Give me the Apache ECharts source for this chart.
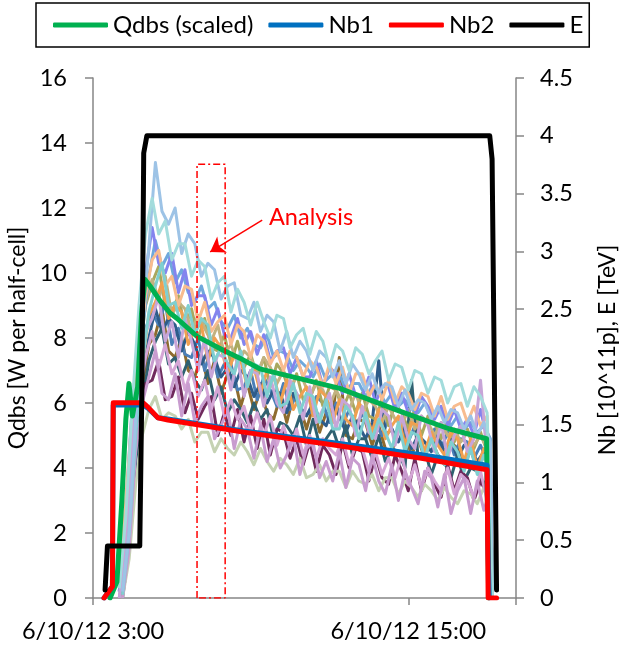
<!DOCTYPE html>
<html><head><meta charset="utf-8">
<script src="https://cdn.jsdelivr.net/npm/echarts@6/dist/echarts.min.js"></script>
<style>html,body{margin:0;padding:0;background:#fff}#c{width:626px;height:651px}</style>
</head><body><div id="c"></div>
<script>
// Time axis: hours after 6/10/12 3:00
const xTickLabels = {0: '6/10/12 3:00', 12: '6/10/12 15:00'};

// Qdbs (scaled) – left axis
const qdbsT = [0.65, 0.91, 1.1, 1.25, 1.37, 1.5, 1.7, 1.85, 1.98, 2.17, 2.55, 2.93, 3.2, 3.96, 4.94, 5.59, 6.35, 7.87, 9.39, 11.67, 13.57, 14.98, 15.02, 15.06];
const qdbsV = [0, 0.5, 3.0, 5.5, 6.6, 5.6, 6.5, 8.8, 9.8, 9.6, 9.15, 8.77, 8.6, 8.05, 7.63, 7.38, 7.05, 6.75, 6.45, 5.75, 5.2, 4.9, 4.85, 0];

// Nb1, Nb2, E – right axis
const nb1T = [0.42, 0.74, 0.77, 1.91, 2.1, 2.47, 2.85, 5.6, 9.3, 12.5, 15.0, 15.03, 15.08];
const nb1V = [0, 0.1, 1.67, 1.67, 1.64, 1.56, 1.55, 1.45, 1.34, 1.24, 1.15, 0.5, 0];
const nb2T = [0.42, 0.74, 0.77, 1.91, 2.1, 2.47, 2.85, 5.6, 9.3, 12.5, 15.0, 15.04, 15.36];
const nb2V = [0, 0.1, 1.69, 1.69, 1.65, 1.56, 1.54, 1.44, 1.32, 1.21, 1.11, 0, 0];
const eT = [0.46, 0.55, 1.78, 1.86, 1.93, 2.05, 15.1, 15.19, 15.36];
const eV = [0.07, 0.45, 0.45, 1.8, 3.85, 4.0, 4.0, 3.8, 0.07];

// Individual half-cell heat-load traces (left axis)
const tA = [1.0,1.25,1.5,1.75,2.0,2.25,2.5,2.75,3.0,3.25,3.5,3.75,4.0,4.25,4.5,4.75,5.0,5.25,5.5,5.75,6.0,6.25,6.5,6.75,7.0,7.25,7.5,7.75,8.0,8.25,8.5,8.75,9.0,9.25,9.5,9.75,10.0,10.25,10.5,10.75,11.0,11.25,11.5,11.75,12.0,12.25,12.5,12.75,13.0,13.25,13.5,13.75,14.0,14.25,14.5,14.75,15.0,15.2];
const tB = [1.125,1.375,1.625,1.875,2.125,2.375,2.625,2.875,3.125,3.375,3.625,3.875,4.125,4.375,4.625,4.875,5.125,5.375,5.625,5.875,6.125,6.375,6.625,6.875,7.125,7.375,7.625,7.875,8.125,8.375,8.625,8.875,9.125,9.375,9.625,9.875,10.125,10.375,10.625,10.875,11.125,11.375,11.625,11.875,12.125,12.375,12.625,12.875,13.125,13.375,13.625,13.875,14.125,14.375,14.625,14.875,15.125,15.2];

const brownV = [0.1,2.2,5.0,6.5,7.8, 8.1,8.9,7.6,7.4, 8.0,7.0,6.8,7.5, 6.6,7.3,6.3,6.9, 6.8,5.9,6.6,5.8, 6.4,5.7,5.5,6.2, 5.4,6.2,5.9,5.2, 5.9,5.1,5.7,5.6, 7.4,5.0,4.9,5.5, 5.4,4.7,5.3,4.6, 4.5,5.2,5.0,4.4, 4.9,4.3,4.9,4.4, 4.1,4.8,4.6,4.0, 4.6,3.9,4.4,4.0, 0];
const steelV = [0.2,2.4,5.2,7.0,8.3, 8.8,8.4,9.1,7.8, 8.3,7.5,7.4,8.0, 7.0,7.7,6.8,7.2, 7.2,6.4,6.5,7.0, 6.1,6.8,6.4,5.9, 6.6,5.8,6.3,5.6, 5.7,6.2,6.0,5.4, 6.0,5.3,5.8,5.2, 5.7,5.2,5.4,5.0, 5.5,4.9,5.5,4.8, 5.3,4.9,4.7,5.2, 4.6,5.1,4.4,4.9, 4.8,4.3,4.7,4.2, 0];
const darkBlueV = [0.1,2.3,5.0,6.8,8.0, 8.9,8.2,8.6,8.4, 7.6,8.2,7.8,7.2, 7.6,7.4,6.8,7.1, 6.5,7.0,6.8,6.2, 6.6,6.0,6.4,6.3, 5.7,6.3,5.9,5.6, 6.0,5.5,5.3,5.9, 5.6,5.1,5.6,5.3, 4.9,5.4,7.3,5.0, 5.2,4.8,5.3,4.6, 5.0,4.8,4.5,5.0, 4.5,4.9,4.3,4.7, 4.6,4.2,4.5,4.1, 0];
const tealV = [0.0,1.5,4.2,6.0,7.3, 7.9,8.3,7.2,7.4, 6.8,7.3,6.7,6.4, 7.0,6.1,6.5,5.7, 6.1,5.8,5.4,6.0, 5.5,5.8,4.9,5.4, 5.3,5.0,5.6,4.7, 5.5,4.7,4.9,5.2, 4.6,5.3,4.4,4.9, 4.9,4.3,5.0,4.2, 4.6,4.5,4.0,6.7, 4.3,4.6,3.8,4.4, 4.2,3.7,4.4,3.6, 4.0,3.9,3.5,3.8, 0];
const purpleV = [0.0,1.0,3.8,5.5,6.6, 6.7,7.3,6.1,6.2, 6.8,5.7,6.3,5.5, 5.9,6.2,5.0,5.7, 5.0,5.8,4.8,5.6, 4.6,5.5,4.4,5.2, 5.1,4.3,4.9,4.1, 4.8,3.9,4.7,4.4, 3.8,4.8,4.0,4.6, 4.5,3.6,4.4,3.7, 3.5,4.4,3.9,3.3, 4.3,3.3,4.0,3.5, 3.1,4.1,3.3,3.9, 3.7,3.0,3.6,3.2, 0];
const oliveV = [0.3,2.6,5.2,7.4,9.0, 9.7,10.2,9.0,8.8, 9.3,8.3,8.9,8.0, 8.6,7.7,7.6,8.1, 7.2,7.9,7.1,7.5, 6.8,7.4,6.5,7.2, 6.9,6.3,6.9,6.1, 6.1,6.7,5.9,6.5, 6.4,5.8,6.3,5.7, 6.3,5.6,5.5,6.1, 5.3,6.0,5.7,5.2, 5.8,5.0,5.6,5.4, 4.9,5.5,4.8,5.3, 5.2,4.6,5.1,4.5, 0];
const khakiV = [0.3,2.7,5.6,7.6,9.1, 9.8,9.2,9.9,8.7, 9.1,8.9,8.2,8.7, 8.3,7.9,8.4,7.5, 7.8,7.2,7.6,7.4, 6.9,7.4,7.1,6.6, 7.0,6.5,6.8,6.7, 6.2,6.6,6.4,5.9, 6.4,6.0,5.8,6.3, 5.7,6.1,5.9,5.4, 5.9,5.5,5.3,5.8, 5.2,5.6,5.4,5.0, 5.4,5.0,5.2,4.8, 5.1,4.7,5.0,4.6, 0];
const orangeV = [0.2,2.8,5.5,7.2,8.7, 9.1,9.7,8.6,9.0, 8.8,7.8,8.3,8.4, 7.3,8.0,7.7,6.9, 7.5,7.3,6.5,7.1, 6.3,7.0,6.9,6.0, 6.7,5.8,6.2,6.5, 5.6,6.4,6.2,5.4, 6.1,5.5,5.3,6.0, 5.7,5.1,5.8,4.9, 5.3,5.6,4.7,5.4, 5.3,4.5,5.1,4.7, 4.4,5.1,4.9,4.2, 4.9,4.0,4.6,4.3, 0];
const sageV = [0.0,1.2,3.5,5.0,5.8, 6.2,5.5,5.7,5.6, 5.2,5.5,4.8,5.1, 5.1,4.5,4.9,4.6, 4.4,4.8,4.5,4.1, 4.6,4.2,3.9,4.3, 4.1,3.8,4.3,3.7, 3.8,4.1,3.6,3.9, 3.9,3.4,3.9,3.6, 3.5,3.8,3.3,3.7, 3.7,3.2,3.6,3.4, 3.1,3.5,3.3,3.0, 3.4,3.1,2.9,3.3, 3.2,2.9,3.4,2.8, 0];
const midBlueV = [0.2,2.6,5.8,8.2,9.9, 11.0,10.2,10.6,9.7, 10.1,9.4,9.1,9.6, 8.9,9.1,8.5,8.3, 8.7,8.0,8.3,7.8, 7.7,8.1,7.4,7.6, 7.5,7.0,7.3,7.1, 6.8,7.2,6.7,6.9, 6.9,6.4,6.6,6.6, 6.2,6.5,6.4,6.0, 6.3,5.9,6.1,5.8, 5.7,6.0,5.6,5.8, 5.6,5.3,5.6,5.2, 5.4,5.1,5.3,4.9, 0];
const periV = [0.2,2.8,6.0,8.0,10.0, 11.4,10.3,10.0,10.6, 9.4,10.1,9.0,9.3, 9.3,8.4,8.9,8.1, 8.0,8.6,7.8,8.2, 7.5,8.1,7.3,7.6, 7.7,6.9,7.4,6.8, 6.8,7.3,6.5,7.1, 6.9,6.3,6.9,6.2, 6.2,6.8,6.0,6.5, 6.5,5.8,6.3,5.7, 5.6,6.2,5.9,5.5, 5.9,5.3,5.8,5.2, 5.5,5.0,5.8,4.9, 0];
const peachV = [0.4,3.0,5.8,7.5,9.3, 10.4,10.7,9.6,9.9, 9.0,9.6,9.5,8.5, 9.1,8.2,8.5,8.7, 7.8,8.4,8.2,7.4, 8.1,7.9,7.2,7.6, 7.0,7.6,7.4,6.8, 7.3,7.1,6.5,7.2, 6.6,7.1,6.3,6.9, 6.9,6.2,6.6,6.1, 6.7,6.0,6.5,6.3, 5.8,6.3,6.2,5.6, 6.2,5.5,5.9,6.0, 5.4,5.9,5.3,5.6, 0];
const pinkLavV = [0.0,1.6,4.8,6.3,7.4, 8.2,7.1,7.8,6.9, 7.3,6.4,7.0,6.2, 6.7,5.8,6.5,5.6, 6.1,5.5,5.9,5.1, 5.7,5.0,5.6,4.7, 5.3,4.6,5.2,4.4, 5.0,4.3,4.9,4.6, 4.4,4.9,4.1,4.7, 4.6,3.9,4.5,3.8, 4.3,3.7,4.4,3.5, 4.1,3.4,4.0,3.6, 3.3,4.0,3.2,3.8, 3.6,3.1,3.9,3.0, 0];
const lav2V = [0.0,1.8,5.0,6.8,8.2, 8.6,9.3,7.9,8.5, 7.4,8.6,7.9,7.0, 8.0,6.8,7.5,7.4, 6.4,7.4,6.2,7.0, 6.9,5.9,6.8,6.0, 5.7,6.7,6.3,5.5, 6.5,5.4,5.8,6.3, 5.2,6.1,5.9,5.0, 5.9,5.1,4.9,5.8, 5.6,4.7,5.6,4.9, 4.6,5.6,5.3,4.5, 5.4,4.3,5.0,5.3, 4.5,4.9,6.7,4.3, 0];
const lavLowV = [0.0,1.5,4.5,6.0,6.8, 7.6,6.3,6.1,6.9, 5.6,6.6,5.4,5.9, 6.2,4.9,5.3,5.8, 4.6,5.5,5.2,4.3, 5.3,4.2,4.9,4.0, 4.4,5.0,3.8,4.6, 4.8,3.7,4.2,3.6, 4.5,3.4,4.3,4.1, 3.3,4.4,3.6,3.2, 4.1,3.0,3.9,3.4, 2.9,3.9,3.7,2.8, 3.8,2.6,3.3,3.7, 2.6,3.6,2.7,3.3, 0];
const aqua2V = [0.1,2.0,5.0,7.2,8.8, 9.6,10.3,9.0,9.1, 8.3,9.0,8.1,8.6, 8.4,7.3,7.7,7.2, 6.9,7.6,6.5,7.2, 7.1,6.2,6.9,5.9, 6.0,6.6,5.7,6.3, 6.2,5.4,6.1,5.2, 5.2,5.9,5.6,4.9, 5.7,4.9,5.5,5.1, 4.6,5.4,4.5,5.1, 5.0,4.3,4.9,4.4, 4.1,4.8,4.5,3.9, 4.6,3.8,4.4,3.9, 0];
const lightBlueV = [0.2,2.0,5.5,8.5,10.8, 13.4,11.9,11.5,12.0, 10.6,11.2,10.9,9.9, 10.3,10.1,9.2,9.6, 9.7,8.7,8.6,9.1, 8.2,8.7,8.5,7.6, 8.2,7.4,7.9,7.6, 7.0,7.6,7.4,6.8, 7.3,6.6,7.2,6.9, 6.4,6.9,6.3,6.6, 6.5,5.9,6.4,5.8, 6.1,6.0,5.5,5.9, 5.4,5.8,5.7,5.2, 5.6,5.0,5.4,4.8, 0];
const aquaV = [0.3,2.5,6.0,9.0,11.2, 12.3,11.2,11.6,10.4, 10.9,10.9,9.9,10.4, 10.2,9.2,9.7,9.9, 8.8,9.5,9.1,8.4, 9.1,8.5,8.0,8.7, 8.6,7.7,8.1,8.3, 7.5,8.2,7.9,7.1, 7.8,7.6,7.0,7.7, 7.5,6.9,7.3,7.6, 6.7,7.2,7.1,6.4, 7.0,6.9,6.3,6.8, 6.7,6.0,6.5,6.6, 5.9,6.5,6.2,5.7, 0];

// Analysis window annotation
const analysisStart = 3.96, analysisEnd = 5.03, analysisTop = 13.35;
const arrowFrom = [6.44, 11.63], arrowTo = [4.46, 10.65];

const FONT = 'Lato';
const pair = (t, v) => t.map((x, i) => [x, v[i]]);

const traces = [
  ['brown', tB, brownV, '#8E6B2E'],
  ['steel', tA, steelV, '#4A7FB8'],
  ['darkBlue', tB, darkBlueV, '#2E5C8A'],
  ['teal', tB, tealV, '#2F6171'],
  ['purple', tA, purpleV, '#6F2A5C'],
  ['olive', tA, oliveV, '#A9A85E'],
  ['khaki', tA, khakiV, '#C2B280'],
  ['orange', tB, orangeV, '#F0A050'],
  ['sage', tB, sageV, '#C5D2B3'],
  ['midBlue', tB, midBlueV, '#6FA8DC'],
  ['peri', tA, periV, '#8484EE'],
  ['peach', tA, peachV, '#F8BC8F'],
  ['pinkLav', tA, pinkLavV, '#D5A6D6'],
  ['lav2', tA, lav2V, '#C7A5D8'],
  ['lavLow', tB, lavLowV, '#C89CCF'],
  ['aqua2', tB, aqua2V, '#7FCFD0'],
  ['lightBlue', tB, lightBlueV, '#9DC3E6'],
  ['aqua', tA, aquaV, '#A3DCDC']
];

const series = traces.map(([n, t, v, c]) => ({
  name: n, type: 'line', yAxisIndex: 0, data: pair(t, v), showSymbol: false, silent: true,
  color: c, lineStyle: {color: c, width: 3, join: 'round'}
}));

const main = (name, t, v, c, axis, w) => ({
  name, type: 'line', yAxisIndex: axis, data: pair(t, v), showSymbol: false, silent: true,
  color: c, itemStyle: {color: c}, lineStyle: {color: c, width: w, join: 'round', cap: 'round'}
});
series.push(main('Qdbs (scaled)', qdbsT, qdbsV, '#00B050', 0, 5));
series.push(main('Nb1', nb1T, nb1V, '#0070C0', 1, 5));
series.push(main('Nb2', nb2T, nb2V, '#FF0000', 1, 5));
series.push(main('E', eT, eV, '#000000', 1, 5));
series.push({
  name: 'analysis', type: 'line', yAxisIndex: 0, showSymbol: false, silent: true,
  data: [[analysisStart, 0], [analysisStart, analysisTop], [analysisEnd, analysisTop], [analysisEnd, 0], [analysisStart, 0]],
  lineStyle: {color: '#FF0000', width: 1.5, type: [7, 3, 2, 3]},
  markLine: {
    silent: true, symbol: ['none', 'arrow'], symbolSize: 14, label: {show: false},
    lineStyle: {color: '#FF0000', width: 1.5, type: 'solid'},
    data: [[{coord: arrowFrom}, {coord: arrowTo}]]
  }
});

const axisGray = '#868686';
const chart = echarts.init(document.getElementById('c'), null, {renderer: 'canvas'});
chart.setOption({
  animation: false,
  backgroundColor: '#fff',
  textStyle: {fontFamily: FONT},
  grid: {left: 93, right: 110, top: 78, bottom: 53, containLabel: false, outerBoundsMode: 'none'},
  legend: {
    data: ['Qdbs (scaled)', 'Nb1', 'Nb2', 'E'],
    top: 3, left: 36, icon: 'roundRect', itemWidth: 55, itemHeight: 5, itemGap: 15,
    borderColor: '#000', borderWidth: 1.5, padding: [10, 6, 10, 17],
    textStyle: {fontSize: 24, fontFamily: FONT, color: '#000'}
  },
  xAxis: {
    type: 'value', min: 0, max: 16.1, interval: 12,
    axisLine: {lineStyle: {color: axisGray, width: 1.5}},
    axisTick: {show: true, length: 7, lineStyle: {color: axisGray, width: 1.5}},
    splitLine: {show: false},
    axisLabel: {formatter: v => xTickLabels[v] || '', fontSize: 23.5, color: '#000', margin: 21, fontFamily: FONT}
  },
  yAxis: [{
    type: 'value', min: 0, max: 16, interval: 2, position: 'left',
    name: 'Qdbs [W per half-cell]', nameLocation: 'middle', nameGap: 52,
    nameTextStyle: {fontSize: 23, color: '#000', fontFamily: FONT},
    axisLine: {show: true, lineStyle: {color: axisGray, width: 1.5}},
    axisTick: {show: true, length: 8, lineStyle: {color: axisGray, width: 1.5}},
    splitLine: {show: false},
    axisLabel: {fontSize: 23.5, color: '#000', margin: 26, fontFamily: FONT}
  }, {
    type: 'value', min: 0, max: 4.5, interval: 0.5, position: 'right',
    name: 'Nb [10^11p], E [TeV]', nameLocation: 'middle', nameGap: 80,
    nameTextStyle: {fontSize: 23, color: '#000', fontFamily: FONT, padding: [0, 24, 0, 0]},
    axisLine: {show: true, lineStyle: {color: axisGray, width: 1.5}},
    axisTick: {show: true, length: 8, lineStyle: {color: axisGray, width: 1.5}},
    splitLine: {show: false},
    axisLabel: {fontSize: 23.5, color: '#000', margin: 24, fontFamily: FONT}
  }],
  graphic: [{
    type: 'text', left: 269, top: 205, silent: true,
    style: {text: 'Analysis', fill: '#FF0000', font: '23.5px Lato'}
  }],
  series
});
</script></body></html>
